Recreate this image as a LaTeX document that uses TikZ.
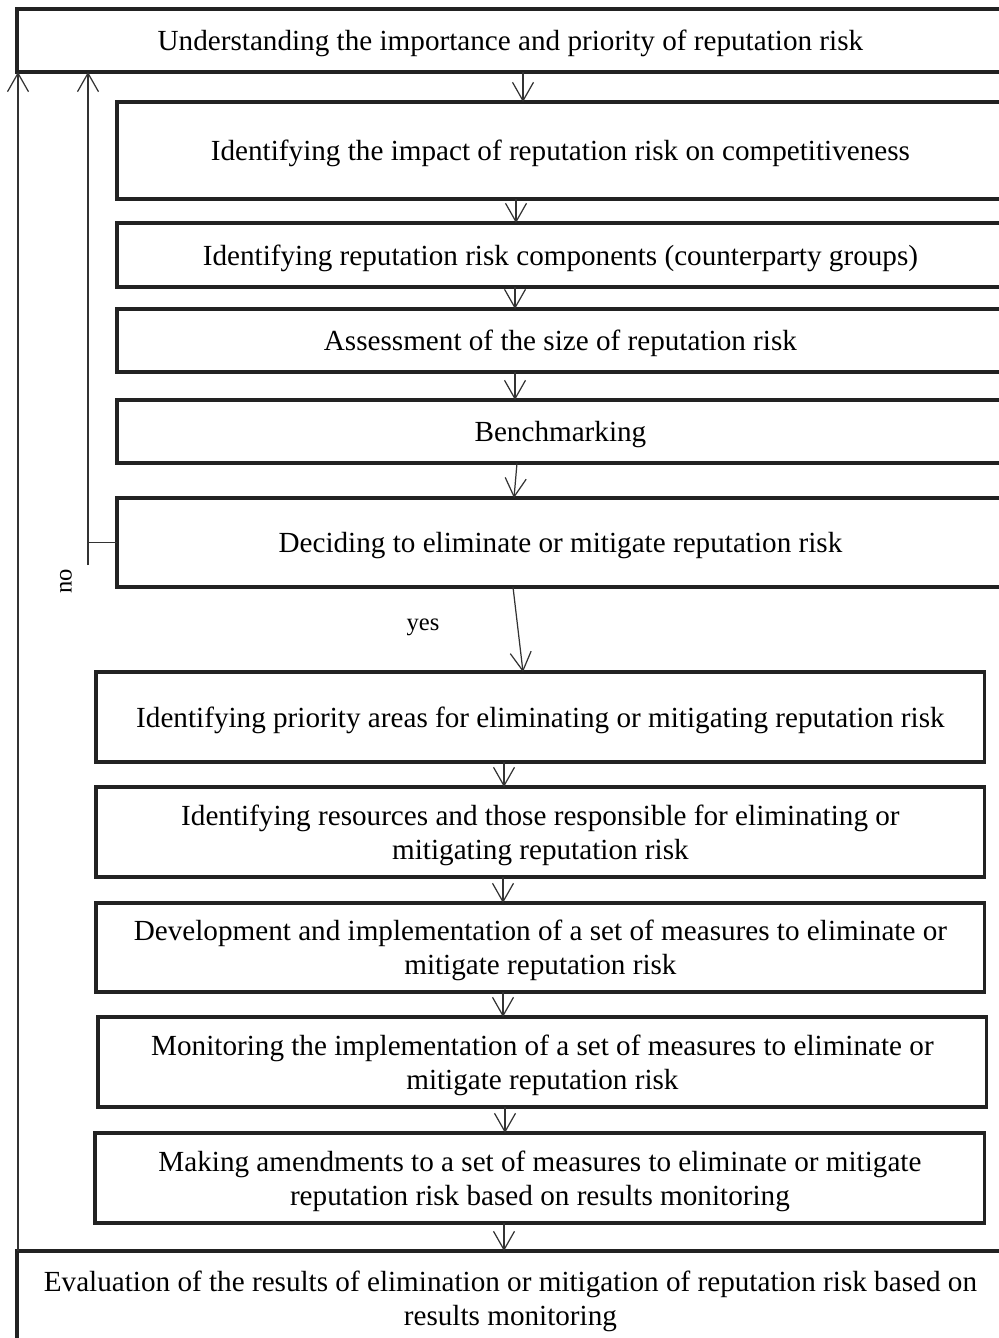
\documentclass[tikz,border=0pt]{standalone}
\usepackage{fontspec}
\setmainfont{Liberation Serif}
\usetikzlibrary{arrows.meta}
\definecolor{boxLine}{RGB}{34,34,34}
\definecolor{flowLine}{RGB}{51,51,51}

\begin{document}
\begin{tikzpicture}[x=0.02cm, y=-0.02cm,
  stage/.style={draw=boxLine, line width=1.8pt, inner sep=0pt, outer sep=0pt,
    anchor=north west, align=center, text depth=0pt, font=\fontsize{16.6}{19.4}\selectfont},
  flow/.style={flowLine, line width=0.7pt, -{Straight Barb[length=0.37cm,width=0.42cm]}},
  link/.style={flowLine, line width=0.7pt},
  tag/.style={text=black, font=\fontsize{14}{16}\selectfont}]
  \useasboundingbox (0,0) rectangle (998,1338);

  % 1. Upper stages (open to the right)
  \node[stage, minimum width=19.74cm, minimum height=1.26cm] (b1) at (17,9)
    {Understanding the importance and priority of reputation risk};
  \node[stage, minimum width=17.74cm, minimum height=1.94cm] (b2) at (117,102)
    {Identifying the impact of reputation risk on competitiveness};
  \node[stage, minimum width=17.74cm, minimum height=1.28cm] (b3) at (117,223)
    {Identifying reputation risk components (counterparty groups)};
  \node[stage, minimum width=17.74cm, minimum height=1.26cm] (b4) at (117,309)
    {Assessment of the size of reputation risk};
  \node[stage, minimum width=17.74cm, minimum height=1.26cm] (b5) at (117,400)
    {Benchmarking};
  \node[stage, minimum width=17.74cm, minimum height=1.78cm] (b6) at (117,498)
    {Deciding to eliminate or mitigate reputation risk};

  % 2. Lower stages
  \node[stage, minimum width=17.78cm, minimum height=1.80cm] (b7) at (96,672)
    {Identifying priority areas for eliminating or mitigating reputation risk};
  \node[stage, minimum width=17.78cm, minimum height=1.80cm] (b8) at (96,787)
    {Identifying resources and those responsible for eliminating or\\ mitigating reputation risk};
  \node[stage, minimum width=17.78cm, minimum height=1.78cm] (b9) at (96,903)
    {Development and implementation of a set of measures to eliminate or\\ mitigate reputation risk};
  \node[stage, minimum width=17.78cm, minimum height=1.80cm] (b10) at (98,1017)
    {Monitoring the implementation of a set of measures to eliminate or\\ mitigate reputation risk};
  \node[stage, minimum width=17.80cm, minimum height=1.80cm] (b11) at (95,1133)
    {Making amendments to a set of measures to eliminate or mitigate\\ reputation risk based on results monitoring};
  \node[stage, minimum width=19.74cm, minimum height=1.88cm] (b12) at (17,1251)
    {Evaluation of the results of elimination or mitigation of reputation risk based on\\ results monitoring};

  % 3. Main flow
  \draw[flow] (b1.south -| 523,0) -- (b2.north -| 523,0);
  \draw[flow] (b2.south -| 516,0) -- (b3.north -| 516,0);
  \draw[flow] (b3.south -| 515,0) -- (b4.north -| 515,0);
  \draw[flow] (b4.south -| 515,0) -- (b5.north -| 515,0);
  \draw[flow] (b5.south -| 517,0) -- (b6.north -| 514,0);
  \draw[flow] (b6.south -| 513,0) -- (b7.north -| 523,0);
  \node[tag] (yes) at (423,627) {yes};
  \draw[flow] (b7.south -| 504,0) -- (b8.north -| 504,0);
  \draw[flow] (b8.south -| 503,0) -- (b9.north -| 503,0);
  \draw[flow] (b9.south -| 503,0) -- (b10.north -| 503,0);
  \draw[flow] (b10.south -| 505,0) -- (b11.north -| 505,0);
  \draw[flow] (b11.south -| 504,0) -- (b12.north -| 504,0);

  % 4. Feedback loops
  \coordinate (noend) at (88,565);
  \draw[link] (b6.west) -- (b6.west -| 87,0);
  \draw[flow] (noend) -- (b1.south -| 88,0);
  \node[tag, rotate=90] (no) at (66,581) {no};
  \draw[flow] (b12.north -| 18,0) -- (b1.south -| 18,0);
\end{tikzpicture}
\end{document}
